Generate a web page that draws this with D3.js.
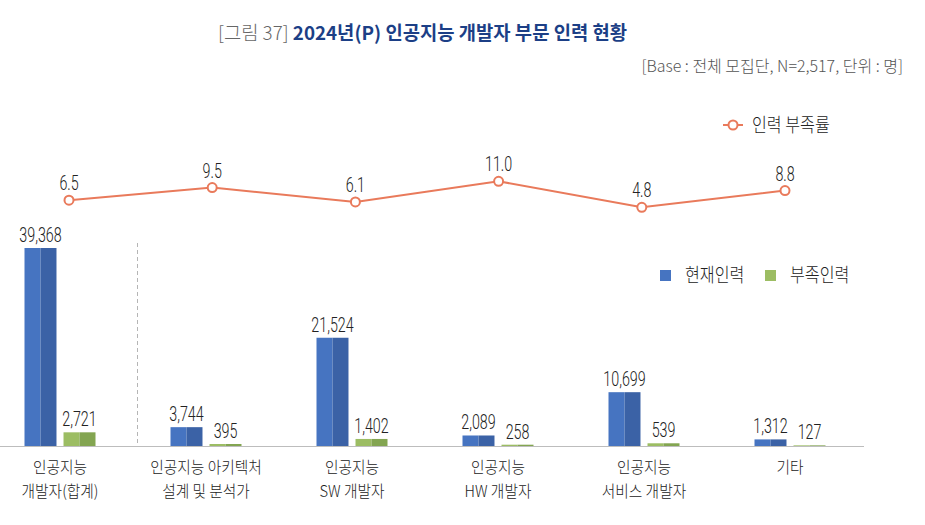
<!DOCTYPE html>
<html>
<head>
<meta charset="utf-8">
<script src="https://cdn.jsdelivr.net/npm/d3@7"></script>
<style>
  body { margin: 0; background: #fff; }
  svg { display: block; }
  text { font-family: "Noto Sans CJK KR", "Noto Sans", sans-serif; }
  .num { font-family: Roboto, "Noto Sans", sans-serif; font-weight: 300; }
  .kr { font-weight: 300; }
</style>
</head>
<body>
<div id="canvas"></div>
<script>
// data
const categories = [
  ["인공지능", "개발자(합계)"],
  ["인공지능 아키텍처", "설계 및 분석가"],
  ["인공지능", "SW 개발자"],
  ["인공지능", "HW 개발자"],
  ["인공지능", "서비스 개발자"],
  ["기타"]
];
const seriesNames = ["현재인력", "부족인력"];
const current = [39368, 3744, 21524, 2089, 10699, 1312];
const shortage = [2721, 395, 1402, 258, 539, 127];
const shortageRate = [6.5, 9.5, 6.1, 11.0, 4.8, 8.8];
const lineName = "인력 부족률";

// constants
const width = 925;
const height = 525;
const baseY = 446;
const colors = {
  "현재인력": ["#4674C1", "#3B62A6"],
  "부족인력": ["#9CBD63", "#83A551"]
};
const lineColor = "#E97A5B";

const svg = d3.select('#canvas')
  .append('svg').attr('width', width).attr('height', height);

// scales
const idx = d3.range(categories.length);
const x0 = d3.scalePoint().domain(idx).range([60, 790]);
const x1 = d3.scaleBand().domain(seriesNames).range([-35.5, 35.5]).paddingInner(0.18);
const y = d3.scaleLinear().domain([0, 39368]).range([baseY, 248]);
const xLine = d3.scalePoint().domain(idx).range([69, 785]);
const yLine = d3.scaleLinear().domain([0, 11]).range([227.5, 181.3]);

// condensed text helper
function ctext(g, x, yy, str, opts) {
  const sx = opts.sx || 0.7;
  return g.append("text")
    .attr("class", opts.cls || "kr")
    .attr("transform", `translate(${x},${yy}) scale(${sx},1)`)
    .attr("text-anchor", opts.anchor || "middle")
    .attr("font-size", opts.size || 17)
    .attr("fill", opts.fill || "#333")
    .text(str);
}

// title
const title = svg.append("text")
  .attr("x", 218).attr("y", 40)
  .attr("font-size", 18.8);
title.append("tspan").attr("fill", "#666").attr("font-weight", 300).text("[그림 37] ");
title.append("tspan").attr("fill", "#1C3F86").attr("font-weight", "bold")
  .text("2024년(P) 인공지능 개발자 부문 인력 현황");

svg.append("text")
  .attr("x", 903).attr("y", 72)
  .attr("text-anchor", "end")
  .attr("font-size", 16)
  .attr("font-weight", 300)
  .attr("fill", "#555")
  .text("[Base : 전체 모집단, N=2,517, 단위 : 명]");

// bars
const barData = [];
idx.forEach(i => {
  barData.push({ i, s: "현재인력", v: current[i] });
  barData.push({ i, s: "부족인력", v: shortage[i] });
});
const bw = x1.bandwidth();
const bars = svg.append("g").selectAll("g").data(barData).join("g")
  .attr("transform", d => `translate(${x0(d.i) + x1(d.s)},0)`);
bars.append("rect")
  .attr("x", 0).attr("width", bw / 2)
  .attr("y", d => y(d.v)).attr("height", d => baseY - y(d.v))
  .attr("fill", d => colors[d.s][0]);
bars.append("rect")
  .attr("x", bw / 2).attr("width", bw / 2)
  .attr("y", d => y(d.v)).attr("height", d => baseY - y(d.v))
  .attr("fill", d => colors[d.s][1]);
bars.each(function (d) {
  ctext(d3.select(this), bw / 2, y(d.v) - 6, d3.format(",")(d.v), { cls: "num", size: 21, sx: 0.68, fill: "#222" });
});

// baseline and separator
svg.append("line")
  .attr("x1", 0).attr("x2", 864).attr("y1", baseY + 0.5).attr("y2", baseY + 0.5)
  .attr("stroke", "#bdbdbd").attr("stroke-width", 1.2);
svg.append("line")
  .attr("x1", 137.5).attr("x2", 137.5).attr("y1", 243).attr("y2", baseY)
  .attr("stroke", "#b5b5b5").attr("stroke-dasharray", "4,3");

// category labels
idx.forEach(i => {
  categories[i].forEach((t, k) => {
    ctext(svg, x0(i), 473 + k * 23.5, t, { size: 16, sx: 0.92, fill: "#222" });
  });
});

// line
const line = d3.line().x((d, i) => xLine(i)).y(d => yLine(d));
svg.append("path")
  .datum(shortageRate)
  .attr("d", line)
  .attr("fill", "none")
  .attr("stroke", lineColor)
  .attr("stroke-width", 2);
svg.append("g").selectAll("circle").data(shortageRate).join("circle")
  .attr("cx", (d, i) => xLine(i)).attr("cy", d => yLine(d))
  .attr("r", 4.5)
  .attr("fill", "#fff").attr("stroke", lineColor).attr("stroke-width", 2);
shortageRate.forEach((v, i) => {
  ctext(svg, xLine(i), yLine(v) - 10, d3.format(".1f")(v), { cls: "num", size: 21, sx: 0.68, fill: "#222" });
});

// legends
const lg = svg.append("g").attr("transform", "translate(733,125)");
lg.append("line").attr("x1", -10).attr("x2", 10).attr("stroke", lineColor).attr("stroke-width", 2);
lg.append("circle").attr("r", 4.5).attr("fill", "#fff").attr("stroke", lineColor).attr("stroke-width", 2);
ctext(lg, 19, 7, lineName, { anchor: "start", size: 19, sx: 0.85, fill: "#222" });

const bl = svg.append("g").selectAll("g").data(seriesNames).join("g")
  .attr("transform", (d, i) => `translate(${660 + i * 105},270)`);
bl.append("rect").attr("width", 11).attr("height", 11).attr("fill", d => colors[d][0]);
bl.each(function (d) {
  ctext(d3.select(this), 25, 12, d, { anchor: "start", size: 19, sx: 0.85, fill: "#222" });
});
</script>
</body>
</html>
